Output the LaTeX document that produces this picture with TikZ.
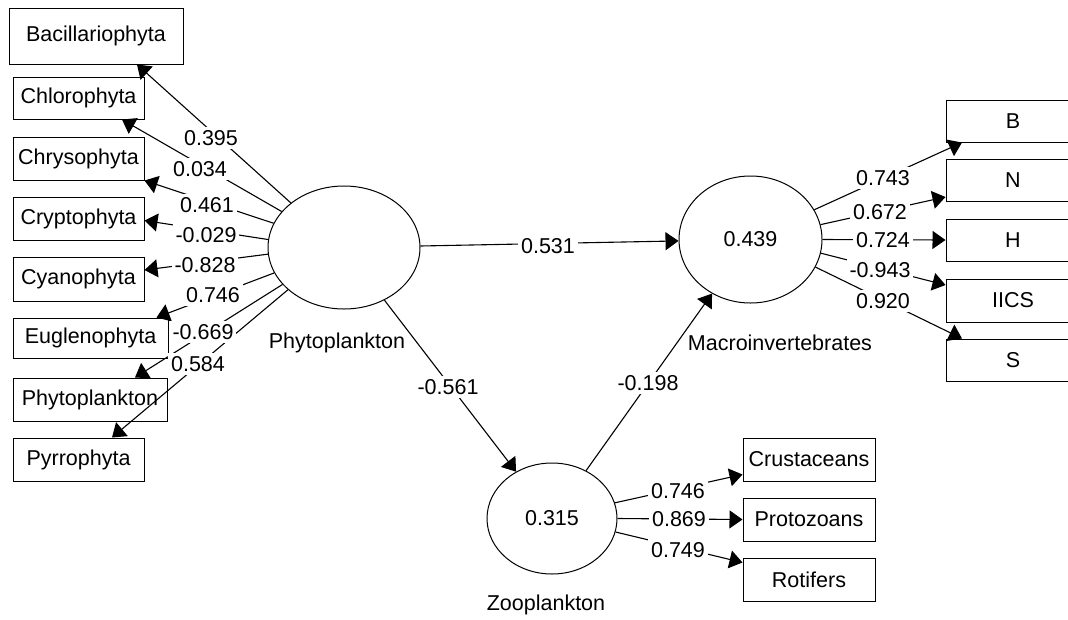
\documentclass[tikz,border=0pt]{standalone}
\usepackage{fontspec}
\setmainfont{Liberation Sans}
\usetikzlibrary{shapes.geometric,arrows.meta}
\newcommand\myfont{\fontsize{21.5}{25}\selectfont}
\tikzset{
  box/.style={draw, rectangle, line width=1pt, inner sep=0pt, font=\myfont},
  lv/.style={draw, ellipse, line width=1pt, inner sep=0pt, font=\myfont},
  arr/.style={line width=1.1pt, -{Triangle[length=13pt,width=18pt]}},
  val/.style={fill=white, inner xsep=3pt, inner ysep=3.5pt, font=\myfont},
  capt/.style={inner sep=0pt, font=\myfont},
}
\begin{document}
\begin{tikzpicture}[x=1pt,y=-1pt]
\useasboundingbox (0,0) rectangle (1068,619);
% latent variables
\node[lv, minimum width=152pt, minimum height=123pt] (P) at (344,247.5) {};
\node[lv, minimum width=143pt, minimum height=127pt] (M) at (750.5,239.5) {0.439};
\node[lv, minimum width=130pt, minimum height=111pt] (Z) at (552,518.5) {0.315};
\node[capt] (Pc) at (337,343) {Phytoplankton};
\node[capt] (Mc) at (780,343) {Macroinvertebrates};
\node[capt] (Zc) at (546,605) {Zooplankton};
% left boxes
\node[box, minimum width=174pt, minimum height=56pt] (Bac) at (96,36) {Bacillariophyta};
\node[box, minimum width=131pt, minimum height=42pt] (Chl) at (78.5,98) {Chlorophyta};
\node[box, minimum width=131pt, minimum height=43pt] (Chr) at (78.5,158.5) {Chrysophyta};
\node[box, minimum width=131pt, minimum height=43pt] (Cry) at (78.5,218.5) {Cryptophyta};
\node[box, minimum width=131pt, minimum height=44pt] (Cya) at (78.5,279) {Cyanophyta};
\node[box, minimum width=155pt, minimum height=40pt] (Eug) at (90.5,338) {Euglenophyta};
\node[box, minimum width=154pt, minimum height=43pt] (PhB) at (90,399.5) {Phytoplankton};
\node[box, minimum width=131pt, minimum height=43pt] (Pyr) at (78.5,459.5) {Pyrrophyta};
% right boxes
\node[box, minimum width=134pt, minimum height=42pt] (B) at (1013,121) {B};
\node[box, minimum width=134pt, minimum height=42pt] (N) at (1013,180) {N};
\node[box, minimum width=134pt, minimum height=42pt] (H) at (1013,240) {H};
\node[box, minimum width=134pt, minimum height=43pt] (I) at (1013,300.5) {IICS};
\node[box, minimum width=134pt, minimum height=42pt] (S) at (1013,360) {S};
% bottom boxes
\node[box, minimum width=132pt, minimum height=43pt] (Cru) at (809,459.5) {Crustaceans};
\node[box, minimum width=132pt, minimum height=43pt] (Pro) at (809,519.5) {Protozoans};
\node[box, minimum width=132pt, minimum height=43pt] (Rot) at (809,579.5) {Rotifers};
% connectors: Phytoplankton outer model
\draw[arr] (P.140.5) -- ([xshift=41pt]Bac.south);
\draw[arr] (P.150) -- ([xshift=43.5pt]Chl.south);
\draw[arr] (P.161) -- (Chr.south east);
\draw[arr] (P.174) -- ([yshift=-2pt]Cry.east);
\draw[arr] (P.185.6) -- ([yshift=9pt]Cya.east);
\draw[arr] (P.200.8) -- ([xshift=66pt]Eug.north);
\draw[arr] (P.211) -- ([xshift=45pt]PhB.north);
\draw[arr] (P.217) -- ([xshift=33.5pt]Pyr.north);
% Macroinvertebrates outer model
\draw[arr] (M.25.3) -- ([xshift=-51pt]B.south);
\draw[arr] (M.12.6) -- ([yshift=-17pt]N.west);
\draw[arr] (M.0) -- (H.west);
\draw[arr] (M.-11.8) -- ([yshift=15.5pt]I.west);
\draw[arr] (M.-23.8) -- ([xshift=-51pt]S.north);
% Zooplankton outer model
\draw[arr] (Z.14) -- ([yshift=-15pt]Cru.west);
\draw[arr] (Z.0) -- (Pro.west);
\draw[arr] (Z.-12) -- ([yshift=17pt]Rot.west);
% inner model
\draw[arr] (P) -- (M);
\draw[arr] (P) -- (Z);
\draw[arr] (Z) -- (M);
% values
\node[val] (v1) at (211,138) {0.395};
\node[val] (v2) at (200,169) {0.034};
\node[val] (v3) at (207,205) {0.461};
\node[val] (v4) at (206,235) {-0.029};
\node[val] (v5) at (205,265) {-0.828};
\node[val] (v6) at (213,295) {0.746};
\node[val] (v7) at (203,332) {-0.669};
\node[val] (v8) at (198,364) {0.584};
\node[val] (w1) at (883,178) {0.743};
\node[val] (w2) at (880,212) {0.672};
\node[val] (w3) at (883,240) {0.724};
\node[val] (w4) at (880,270) {-0.943};
\node[val] (w5) at (883,301) {0.920};
\node[val] (z1) at (678,491) {0.746};
\node[val] (z2) at (679,519) {0.869};
\node[val] (z3) at (678,550) {0.749};
\node[val] (i1) at (548,246) {0.531};
\node[val] (i2) at (448,387) {-0.561};
\node[val] (i3) at (648,383) {-0.198};
\end{tikzpicture}
\end{document}
